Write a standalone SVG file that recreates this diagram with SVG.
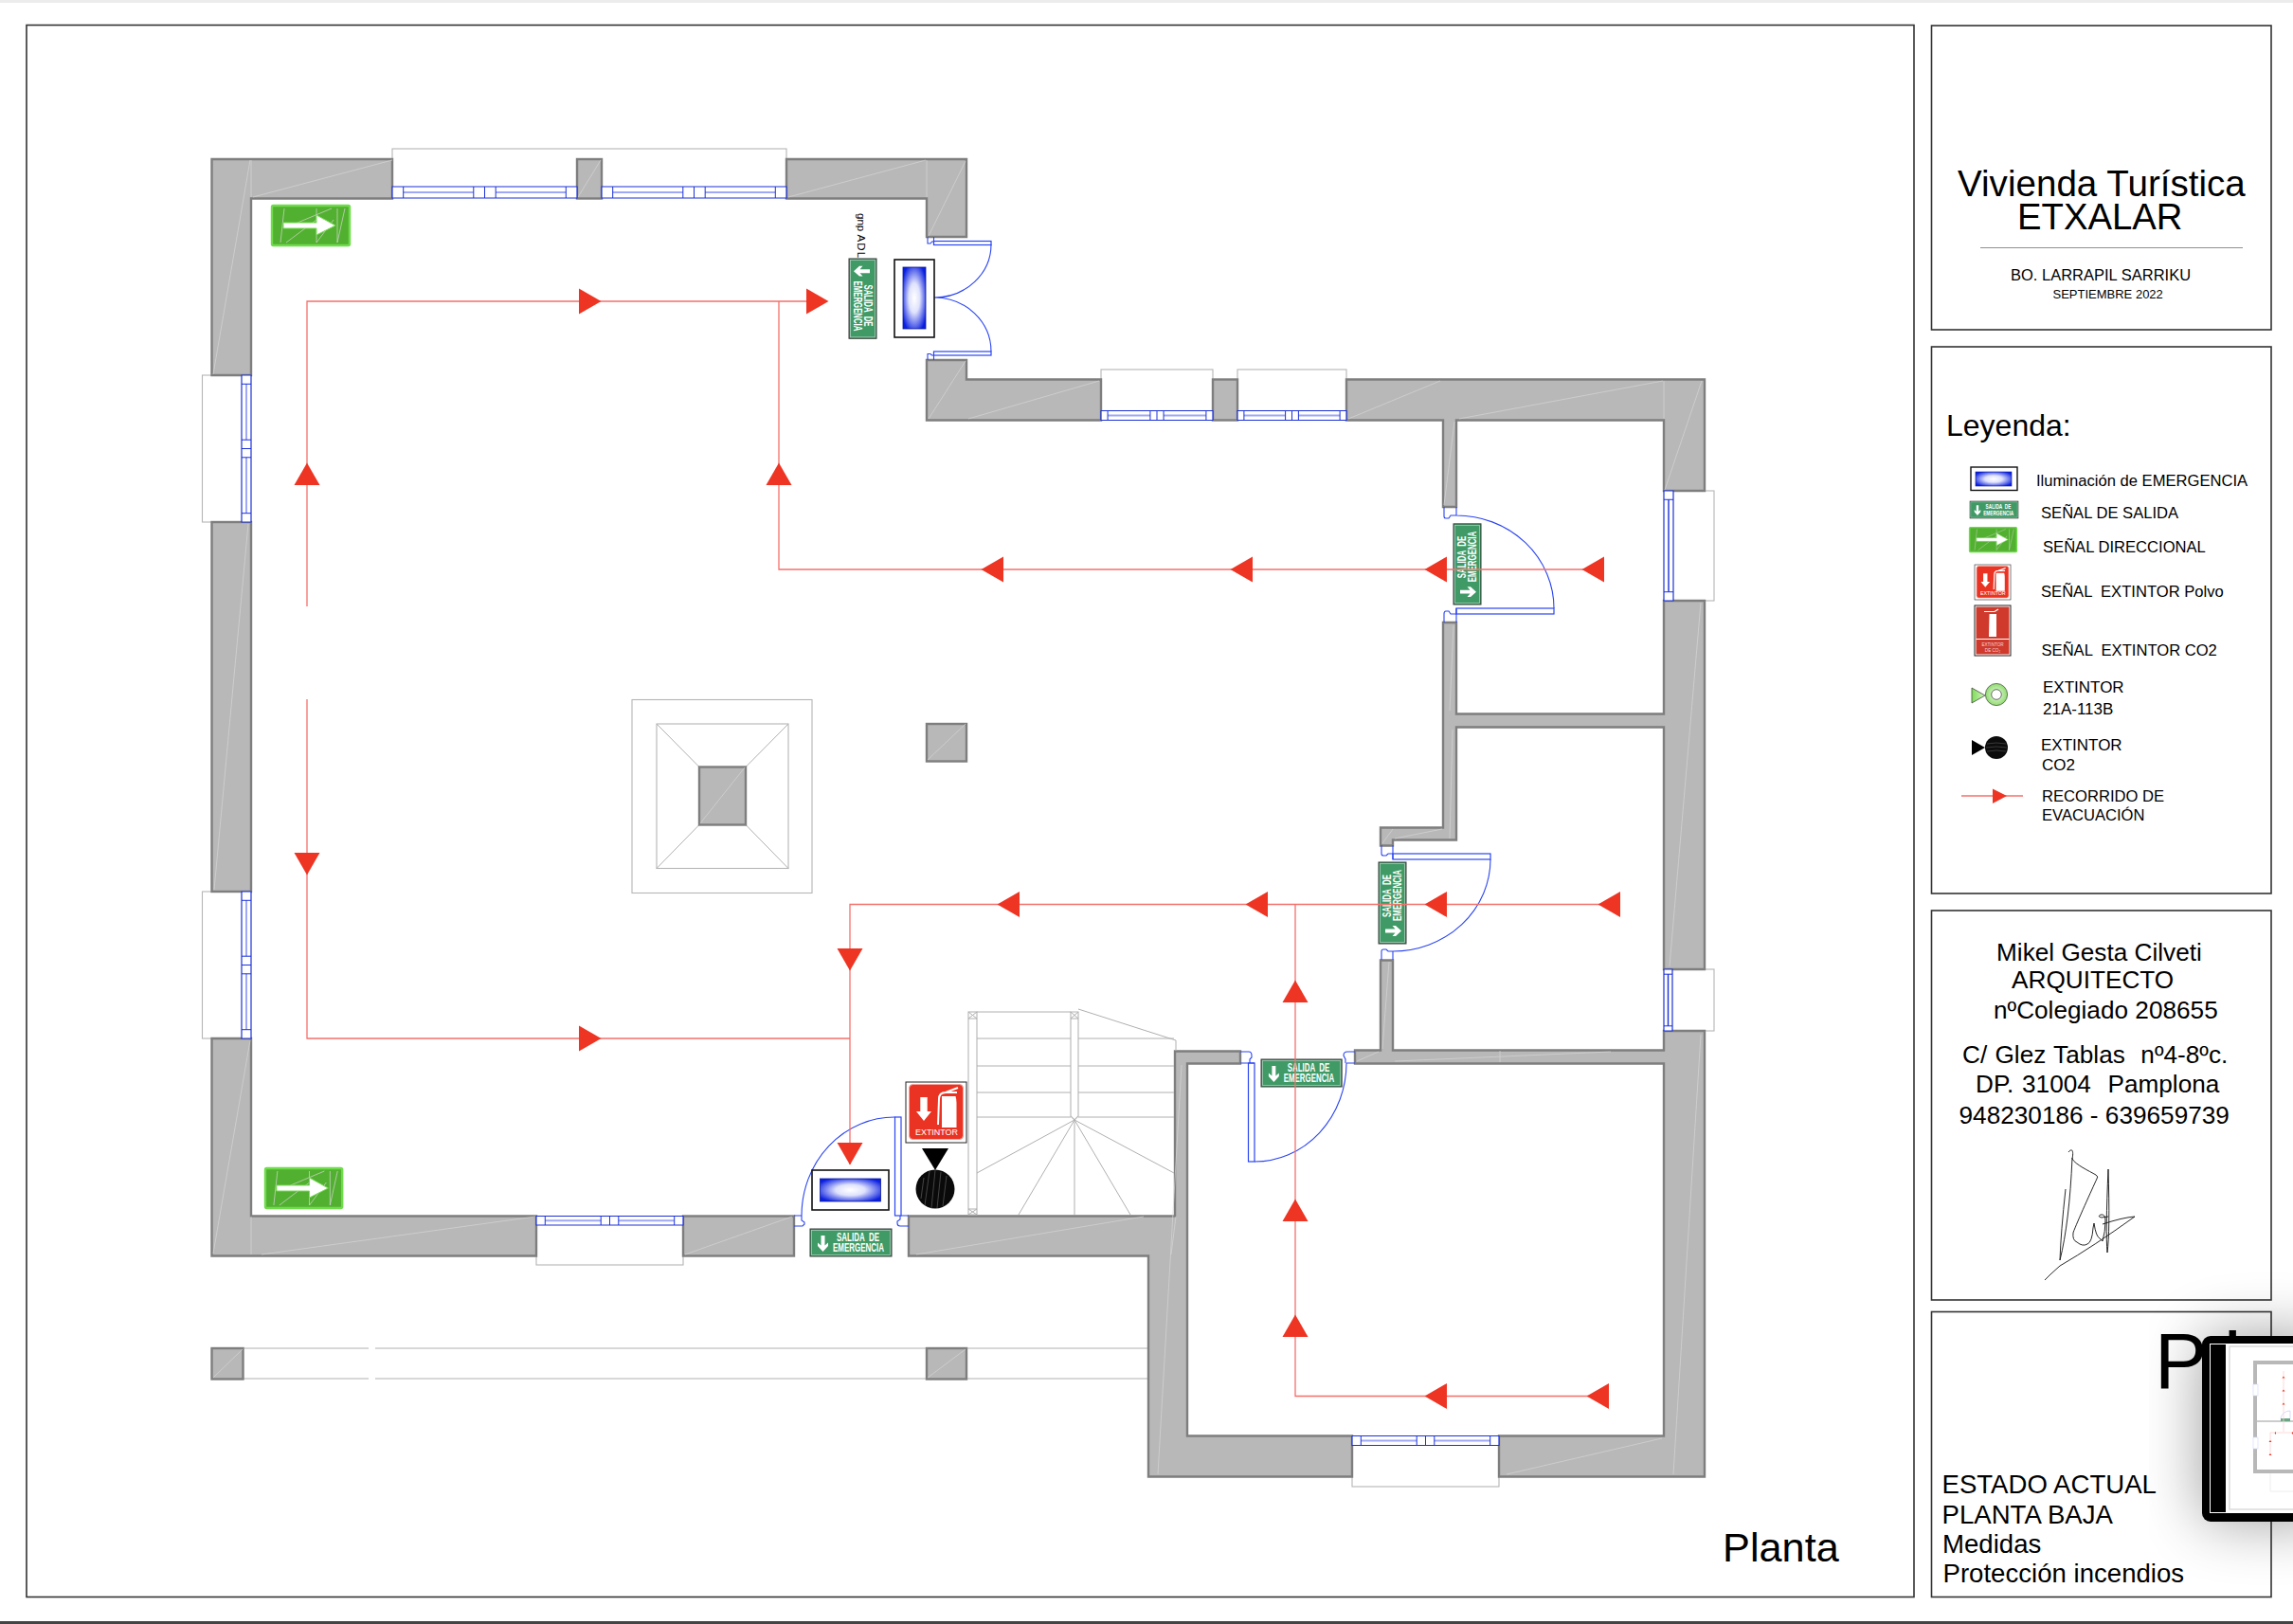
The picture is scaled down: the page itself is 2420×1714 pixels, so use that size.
<svg xmlns="http://www.w3.org/2000/svg" xmlns:xlink="http://www.w3.org/1999/xlink" width="2420" height="1714" viewBox="0 0 2420 1714">
<style>
text{font-family:"Liberation Sans",Arial,sans-serif;fill:#000;white-space:pre}
.box{fill:#fff;stroke:#333;stroke-width:1.6}
.wall{fill:#b8b8b8;stroke:#7e7e7e;stroke-width:2.4;stroke-linejoin:miter}
.hair{fill:none;stroke:#d6d6d6;stroke-width:.7}
.ghost{fill:#fff;stroke:#b5b5b5;stroke-width:1.1}
.thin{fill:none;stroke:#b0b0b0;stroke-width:1}
.blue{fill:none;stroke:#2a45f0;stroke-width:1.1}
.blueF{fill:#fff;stroke:#2a45f0;stroke-width:1.2}
.wf{fill:#fff;stroke:#1c32d6;stroke-width:1.2;vector-effect:non-scaling-stroke}
.wl{fill:none;stroke:#1c32d6;stroke-width:1;vector-effect:non-scaling-stroke}
.wg{fill:none;stroke:#9fa8f6;stroke-width:2;vector-effect:non-scaling-stroke}
.route{fill:none;stroke:#f4706a;stroke-width:1.3}
.tri{fill:#ee3524}
.lg{font-size:16.6px}
.ar{font-size:26.2px}
.st{font-size:27.6px}
.sw{fill:#fff;font-weight:bold}
.sig{fill:none;stroke:#111;stroke-width:.9}
</style>
<defs>
<radialGradient id="lampGrad" r=".6"><stop offset="0" stop-color="#fff"/><stop offset=".4" stop-color="#dfe2fc"/><stop offset="1" stop-color="#0a1fe0"/></radialGradient>
<radialGradient id="ringGrad"><stop offset="0" stop-color="#f4fff0"/><stop offset="1" stop-color="#8fdb6e"/></radialGradient>
<linearGradient id="triGrad"><stop offset="0" stop-color="#7edb58"/><stop offset="1" stop-color="#d3f5c0"/></linearGradient>
<filter id="soft" x="-40%" y="-40%" width="180%" height="180%"><feGaussianBlur stdDeviation="32"/></filter>
<path id="arrow" class="tri" d="M0-13.5L23.500 0L0 13.500z"/>
<g id="win2">
<rect class="wf" width="100" height="10"/>
<path class="wg" d="M6 5H44M56 5H94"/>
<path class="wl" d="M6 0V10M44 0V10M50 0V10M56 0V10M94 0V10"/>
</g>
<g id="win1">
<rect class="wf" width="100" height="10"/>
<path class="wg" d="M8 5H92"/>
<path class="wl" d="M8 0V10M92 0V10M8 5H92"/>
</g>
<g id="exitSign">
<rect width="86" height="29" fill="#3f9a66" stroke="#3a3a3a" stroke-width="1"/>
<rect x="1.500" y="1.500" width="83" height="26" fill="none" stroke="#a9cdb8" stroke-width=".8"/>
<path d="M11.500 7H15.500V17.500L19 14.500V18L13.500 24L8 18V14.500L11.500 17.500z" fill="#fff"/>
<text class="sw" x="28" y="12.800" font-size="12" textLength="45" lengthAdjust="spacingAndGlyphs">SALIDA  DE</text>
<text class="sw" x="24" y="24" font-size="12" textLength="54" lengthAdjust="spacingAndGlyphs">EMERGENCIA</text>
</g>
<g id="dirSign">
<rect x="1" y="1" width="82" height="42" rx="1.500" fill="#52b030" stroke="#6fdc4b" stroke-width="2.400"/>
<path class="hair" d="M10 40L14 4M16 40L48 16M48 40V4M48 40L66 16M70 40V4M70 40L78 4M16 24L64 4"/>
<path d="M13 19H48V11L68 22L48 32V25H13z" fill="#fff" stroke="#78dd55" stroke-width="1"/>
</g>
<g id="lampV"><rect width="42" height="82" fill="#fff" stroke="#111" stroke-width="1.600"/><rect x="9" y="8" width="24" height="65" fill="url(#lampGrad)" stroke="#0a1a9a" stroke-width=".8"/></g>
<g id="lampH"><rect width="81" height="42" fill="#fff" stroke="#111" stroke-width="1.600"/><rect x="8.500" y="9" width="64" height="24" fill="url(#lampGrad)" stroke="#0a1a9a" stroke-width=".8"/></g>
<g id="fireSign">
<rect x="0" y="0" width="64" height="64" fill="#fff" stroke="#222" stroke-width="1"/>
<rect x="3.500" y="2.500" width="57" height="58" rx="4" fill="#ea3322" stroke="#f7a59d" stroke-width="1"/>
<path d="M15.300 16H22.700V31H27L19 41L11 31H15.300z" fill="#fff"/>
<path d="M38 15H52.500Q53.500 18 53.500 22V48H38V22Q38 18 38 15z" fill="#fff"/>
<path d="M34 45L35 18Q35 11 42 11L55 6M42 11L54 11" fill="none" stroke="#fff" stroke-width="2"/>
<text class="sw" x="10" y="56" font-size="9.500" textLength="45" lengthAdjust="spacingAndGlyphs" style="font-weight:normal">EXTINTOR</text>
</g>
</defs>
<rect width="2420" height="1714" fill="#fff"/>
<rect width="2420" height="3" fill="#ececec"/>
<rect y="1711" width="2420" height="3" fill="#444"/>

<g id="sheet-frame"><rect class="box" x="28" y="26.500" width="1992" height="1659"/></g>

<g id="title-block">
<rect class="box" x="2038.500" y="27" width="358.500" height="321"/>
<text x="2066" y="207" font-size="38.600px">Vivienda Turística</text>
<text x="2129" y="242" font-size="38.300px">ETXALAR</text>
<path d="M2090 261.500H2367" stroke="#444" stroke-width=".6"/>
<text x="2122" y="296" font-size="16.500px">BO. LARRAPIL SARRIKU</text>
<text x="2166.500" y="315" font-size="13px">SEPTIEMBRE 2022</text>
</g>

<g id="legend">
<rect class="box" x="2038.500" y="366" width="358.500" height="577"/>
<text x="2054" y="459.500" font-size="32px">Leyenda:</text>
<rect x="2080" y="493" width="49" height="24.500" fill="#fff" stroke="#111" stroke-width="1.400"/>
<rect x="2085" y="498" width="38" height="15" fill="url(#lampGrad)" stroke="#0a1a9a" stroke-width=".6"/>
<text class="lg" x="2149" y="513">Iluminación de EMERGENCIA</text>
<use xlink:href="#exitSign" href="#exitSign" transform="translate(2079 529) scale(.593 .62)"/>
<text class="lg" x="2154" y="547">SEÑAL DE SALIDA</text>
<use xlink:href="#dirSign" href="#dirSign" transform="translate(2078 556) scale(.607 .614)"/>
<text class="lg" x="2156" y="583">SEÑAL DIRECCIONAL</text>
<use xlink:href="#fireSign" href="#fireSign" transform="translate(2084 596) scale(.594 .578)"/>
<text class="lg" x="2154" y="629.500">SEÑAL  EXTINTOR Polvo</text>
<g transform="translate(2084 639)">
<rect width="38" height="53" fill="#fff" stroke="#222" stroke-width="1"/>
<rect x="1.500" y="1.500" width="35" height="50" fill="#cf3a2c"/>
<rect x="1.500" y="35" width="35" height="1" fill="#fff"/>
<path d="M15.500 9H23V33H15z" fill="#fff"/>
<path d="M10 6.500H21L25 4" fill="none" stroke="#fff" stroke-width="1.200"/>
<text x="19" y="42.500" font-size="4.600" text-anchor="middle" style="fill:#f6d6d2">EXTINTOR</text>
<text x="19" y="48.500" font-size="4.600" text-anchor="middle" style="fill:#f6d6d2">DE CO₂</text>
</g>
<text class="lg" x="2154.500" y="692">SEÑAL  EXTINTOR CO2</text>
<path d="M2081 726L2095 734L2081 742z" fill="url(#triGrad)" stroke="#333" stroke-width=".7"/>
<circle cx="2107" cy="733" r="11.600" fill="url(#ringGrad)" stroke="#444" stroke-width=".7"/>
<circle cx="2107" cy="733" r="5.300" fill="#fff" stroke="#333" stroke-width=".7"/>
<text class="lg" x="2156" y="730.500" style="font-size:17px">EXTINTOR</text>
<text class="lg" x="2156" y="754" style="font-size:17px">21A-113B</text>
<path d="M2081 781L2095 789L2081 797z" fill="#000"/>
<circle cx="2107" cy="789" r="12" fill="#0c0c0c"/>
<path d="M2097 785Q2107 783 2117 785M2096 789Q2107 787 2118 789M2097 793Q2107 791 2117 793" fill="none" stroke="#666" stroke-width=".5"/>
<text class="lg" x="2154" y="792" style="font-size:17px">EXTINTOR</text>
<text class="lg" x="2155" y="812.500" style="font-size:17px">CO2</text>
<path class="route" d="M2070 840H2135"/>
<path class="tri" d="M2103 832.500L2118 840L2103 848z"/>
<text class="lg" x="2155" y="846">RECORRIDO DE</text>
<text class="lg" x="2155" y="866">EVACUACIÓN</text>
</g>

<g id="architect-block">
<rect class="box" x="2038.500" y="961" width="358.500" height="411"/>
<text class="ar" x="2107" y="1014">Mikel Gesta Cilveti</text>
<text class="ar" x="2123" y="1043">ARQUITECTO</text>
<text class="ar" x="2104" y="1075">nºColegiado 208655</text>
<text class="ar" x="2071" y="1122" style="word-spacing:1px">C/ Glez Tablas  nº4-8ºc.</text>
<text class="ar" x="2085" y="1153" style="word-spacing:1.500px">DP. 31004  Pamplona</text>
<text class="ar" x="2067.500" y="1186">948230186 - 639659739</text>
<path class="sig" d="M2183 1216C2186 1212 2189 1213 2187 1223C2190 1229 2205 1236 2212 1240Q2215 1242 2213 1244C2208 1255 2192 1290 2188 1301Q2187 1309 2192 1311Q2198 1316 2203 1313Q2208 1311 2209 1296L2210 1291Q2212 1305 2216 1307L2219 1310Q2222 1300 2222 1288Q2222 1281 2217 1282Q2213 1284 2218 1285L2225 1284"/>
<path class="sig" d="M2225 1234Q2227 1300 2224 1322Q2222 1300 2225 1234"/>
<path class="sig" d="M2180 1255Q2175 1300 2174 1330Q2184 1290 2187 1222"/>
<path class="sig" d="M2158 1351L2164 1345L2174 1336Q2210 1315 2253 1284Q2240 1285 2219 1292"/>
</g>

<g id="sheet-name">
<rect class="box" x="2038.500" y="1384.500" width="358.500" height="301"/>
<text x="2274" y="1465" font-size="83px">P<tspan x="2347">l</tspan></text>
<text class="st" x="2049.500" y="1575.500">ESTADO ACTUAL</text>
<text class="st" x="2049.500" y="1607.500">PLANTA BAJA</text>
<text class="st" x="2050" y="1638.500">Medidas</text>
<text class="st" x="2050.500" y="1669.500">Protección incendios</text>
</g>

<g id="plan-ghosts">
<rect class="ghost" x="414" y="157" width="416" height="45"/>
<rect class="ghost" x="213.500" y="396" width="45" height="155"/>
<rect class="ghost" x="213.500" y="941" width="45" height="155"/>
<rect class="ghost" x="566" y="1288" width="155" height="47"/>
<rect class="ghost" x="1162" y="390" width="118" height="48"/>
<rect class="ghost" x="1306" y="390" width="115" height="48"/>
<rect class="ghost" x="1762" y="518" width="47" height="116"/>
<rect class="ghost" x="1762" y="1023" width="47" height="65"/>
<rect class="ghost" x="1427" y="1520" width="155" height="49"/>
<path class="thin" d="M257 1423H389M396 1423H978M257 1455H389M396 1455H978M1020 1423H1212M1020 1455H1212"/>
<rect class="ghost" x="667" y="738.500" width="190" height="204"/>
<rect class="ghost" x="693" y="764" width="139" height="152.500"/>
<path class="thin" d="M693 764L738 809.500M832 764L787 809.500M693 916.500L738 870.500M832 916.500L787 870.500"/>
</g>

<g id="walls">
<path class="wall" d="M223.500 168H414V209.500H265V396H223.500z"/>
<rect class="wall" x="609" y="168" width="26" height="41.500"/>
<path class="wall" d="M830 168H1020V250H978V209.500H830z"/>
<path class="wall" d="M978 380H1020V400.500H1162V443.500H978z"/>
<rect class="wall" x="1280" y="400.500" width="26" height="43"/>
<path class="wall" d="M1421 400.500H1799V518H1756V443.500H1537V535H1523V443.500H1421z"/>
<path class="wall" d="M1756 634H1799V1023H1756V767.500H1537V886.500H1470V892.500H1457V873.500H1523V657H1537V753.500H1756z"/>
<rect class="wall" x="223.500" y="551" width="41.500" height="390"/>
<path class="wall" d="M223.500 1096H265V1283.500H566V1325.500H223.500z"/>
<rect class="wall" x="721" y="1283.500" width="117" height="42"/>
<path class="wall" d="M959 1283.500H1240V1109.500H1309V1122.500H1253V1515.500H1427V1558.500H1212V1325.500H959z"/>
<path class="wall" d="M1582 1515.500H1756V1122.500H1430V1108.500H1457V1013.500H1470V1108.500H1756V1088H1799V1558.500H1582z"/>
<rect class="wall" x="223.500" y="1423" width="33" height="32.500"/>
<rect class="wall" x="978" y="1423" width="42" height="32.500"/>
<rect class="wall" x="738" y="809.500" width="49" height="61"/>
<rect class="wall" x="978" y="764" width="42" height="39.500"/>
<path class="hair" d="M267 208L414 169M265 169V208M264 169L225 395M832 208L977 169M978 169V208M1019 170L980 249M1019 381L980 442M1022 442L1160 402M1423 442L1520 402M1540 442L1755 402M1524 533L1535 445M1757 517L1796 402M1756 442V402M1762 1020L1795 636M226 939L262 553M264 1098L225 1323M265 1284V1324M276 1324L565 1284M723 1324L836 1284M967 1324L1207 1284M1241 1284L1236 1324M1247 1124L1222 1556M1766 1556L1795 1092M1590 1556L1754 1518M1432 1120L1455 1110M1472 1120L1700 1110M1583 1109V1121M1459 1107L1466 1015M1530 750L1534 660M1530 885L1533 770M1459 890L1470 875M1472 885L1522 875M610 208L634 169M739 869L786 810M979 802L1019 764M225 1454L256 1424M979 1454L1019 1424"/>
</g>

<g id="windows">
<use xlink:href="#win2" href="#win2" transform="translate(414 197) scale(1.95 1.2)"/>
<use xlink:href="#win2" href="#win2" transform="translate(635 197) scale(1.95 1.2)"/>
<use xlink:href="#win2" href="#win2" transform="translate(265 396) rotate(90) scale(1.55 1)"/>
<use xlink:href="#win2" href="#win2" transform="translate(265 941) rotate(90) scale(1.55 1)"/>
<use xlink:href="#win2" href="#win2" transform="translate(566 1283.500) scale(1.55 .95)"/>
<use xlink:href="#win2" href="#win2" transform="translate(1162 433.500) scale(1.18 1)"/>
<use xlink:href="#win2" href="#win2" transform="translate(1306 433.500) scale(1.15 1)"/>
<use xlink:href="#win1" href="#win1" transform="translate(1766 518) rotate(90) scale(1.16 1)"/>
<use xlink:href="#win1" href="#win1" transform="translate(1765 1023) rotate(90) scale(.65 .9)"/>
<use xlink:href="#win2" href="#win2" transform="translate(1427 1515.500) scale(1.55 1)"/>
</g>

<g id="stairs">
<rect class="ghost" x="1022" y="1068" width="9" height="214"/>
<path class="ghost" d="M1130 1068H1138V1178L1134 1182L1130 1178z"/>
<path class="thin" d="M1031 1068H1130M1031 1096H1130M1138 1096H1239M1031 1125H1130M1138 1125H1239M1031 1153H1130M1138 1153H1239M1031 1179H1130M1138 1179H1239M1138 1065L1241 1098V1109M1134 1182L1031 1238M1134 1182L1075 1282M1134 1182V1282M1134 1182L1193 1282M1134 1182L1239 1238M1022 1075H1031M1130 1075H1138M1022 1276H1031M1022 1068L1031 1075M1031 1068L1022 1075M1130 1068L1138 1075M1138 1068L1130 1075M1022 1276L1031 1282M1031 1276L1022 1282"/>
</g>

<g id="doors">
<rect class="blueF" x="985.500" y="254.500" width="60.500" height="4"/>
<path class="blue" d="M1046 258A60 56 0 0 1 986 314A60 57 0 0 1 1046 371M979 250V257H982L983.500 255H985.500M985.500 250V258M979 380V373.500H982L983.500 375H985.500M985.500 380V371"/>
<rect class="blueF" x="985.500" y="371" width="60.500" height="4"/>
<rect class="blueF" x="1537" y="642" width="103" height="6"/>
<path class="blue" d="M1640 642A103 98 0 0 0 1537 544M1524 535V545Q1524 547 1526 547H1529L1531 544H1537M1537 535V544M1524 657V648Q1524 645 1526 645H1529L1531 648H1537M1537 657V642"/>
<rect class="blueF" x="1470" y="901" width="103" height="6"/>
<path class="blue" d="M1573 907A103 97 0 0 1 1470 1004M1458 892V901Q1458 903 1460 903H1463L1465 901H1470M1470 892V907M1458 1013V1004Q1458 1002 1460 1002H1463L1465 1004H1470M1470 1013V1004"/>
<rect class="blueF" x="1317.500" y="1122" width="6.500" height="104"/>
<path class="blue" d="M1324 1226A97 104 0 0 0 1421 1122M1309 1110H1318Q1321 1110 1321 1114V1116L1319 1118V1122M1309 1122H1324M1430 1110H1422Q1418 1110 1418 1114L1420 1118V1122M1430 1122H1421"/>
<rect class="blueF" x="944.500" y="1179" width="6.500" height="104"/>
<path class="blue" d="M944.500 1179A98 104 0 0 0 846 1283M838 1283H846V1288L849 1290V1292L847 1294H838M951 1283H959M959 1294H950Q947 1294 947 1291V1289L950 1287V1283"/>
</g>

<g id="sign-entry-note"><text x="0" y="0" font-size="11.500px" transform="translate(905 225) rotate(90)">gnp <tspan style="letter-spacing:1.200px">ADL</tspan></text></g>
<g id="dir-sign-top"><use xlink:href="#dirSign" href="#dirSign" transform="translate(286 216)"/></g>
<g id="dir-sign-bottom"><use xlink:href="#dirSign" href="#dirSign" transform="translate(279 1232) scale(.99 1)"/></g>
<g id="exit-sign-entry"><use xlink:href="#exitSign" href="#exitSign" transform="translate(925 273) rotate(90) scale(.98 1)"/></g>
<g id="exit-sign-north"><use xlink:href="#exitSign" href="#exitSign" transform="translate(1534 638) rotate(-90) scale(.99 1)"/></g>
<g id="exit-sign-mid"><use xlink:href="#exitSign" href="#exitSign" transform="translate(1455 996) rotate(-90)"/></g>
<g id="exit-sign-room"><use xlink:href="#exitSign" href="#exitSign" transform="translate(1331 1118) scale(.99 1)"/></g>
<g id="exit-sign-main"><use xlink:href="#exitSign" href="#exitSign" transform="translate(855 1297)"/></g>
<g id="lamp-entry"><use xlink:href="#lampV" href="#lampV" transform="translate(944 274)"/></g>
<g id="lamp-main"><use xlink:href="#lampH" href="#lampH" transform="translate(857 1235)"/></g>
<g id="fire-sign"><use xlink:href="#fireSign" href="#fireSign" transform="translate(956 1142)"/></g>
<g id="extinguisher">
<path d="M973 1212H1001L987 1235z" fill="#000"/>
<circle cx="987" cy="1255" r="20.500" fill="#0a0a0a"/>
<path d="M975 1243L972 1265M981 1236L976 1272M987 1235L983 1275M993 1237L989 1275M999 1241L995 1273" fill="none" stroke="#6b6b6b" stroke-width=".6"/>
</g>

<g id="connectors">
<path class="route" d="M324 640V318H852"/>
<path class="route" d="M324 738V1096H897"/>
<path class="route" d="M822 318V601H1680"/>
<path class="route" d="M897 1229V954.500H1700"/>
<path class="route" d="M1367 954.500V1473.500H1690"/>
<use xlink:href="#arrow" href="#arrow" transform="translate(611 318)"/>
<use xlink:href="#arrow" href="#arrow" transform="translate(851 318)"/>
<use xlink:href="#arrow" href="#arrow" transform="translate(611 1096)"/>
<use xlink:href="#arrow" href="#arrow" transform="translate(1059 601) rotate(180)"/>
<use xlink:href="#arrow" href="#arrow" transform="translate(1322 601) rotate(180)"/>
<use xlink:href="#arrow" href="#arrow" transform="translate(1527 601) rotate(180)"/>
<use xlink:href="#arrow" href="#arrow" transform="translate(1693 601) rotate(180)"/>
<use xlink:href="#arrow" href="#arrow" transform="translate(1076 954.500) rotate(180)"/>
<use xlink:href="#arrow" href="#arrow" transform="translate(1338 954.500) rotate(180)"/>
<use xlink:href="#arrow" href="#arrow" transform="translate(1527 954.500) rotate(180)"/>
<use xlink:href="#arrow" href="#arrow" transform="translate(1710 954.500) rotate(180)"/>
<use xlink:href="#arrow" href="#arrow" transform="translate(1527 1473.500) rotate(180)"/>
<use xlink:href="#arrow" href="#arrow" transform="translate(1698 1473.500) rotate(180)"/>
<use xlink:href="#arrow" href="#arrow" transform="translate(324 512) rotate(-90)"/>
<use xlink:href="#arrow" href="#arrow" transform="translate(822 512) rotate(-90)"/>
<use xlink:href="#arrow" href="#arrow" transform="translate(1367 1058) rotate(-90)"/>
<use xlink:href="#arrow" href="#arrow" transform="translate(1367 1289) rotate(-90)"/>
<use xlink:href="#arrow" href="#arrow" transform="translate(1367 1411) rotate(-90)"/>
<use xlink:href="#arrow" href="#arrow" transform="translate(324 900) rotate(90)"/>
<use xlink:href="#arrow" href="#arrow" transform="translate(897 1001) rotate(90)"/>
<use xlink:href="#arrow" href="#arrow" transform="translate(897 1206) rotate(90)"/>
</g>

<text x="1818" y="1648" font-size="43.300px">Planta</text>

<g id="thumbnail-overlay">
<rect x="2324" y="1410" width="140" height="196" rx="8" fill="#000" opacity=".38" filter="url(#soft)"/>
<rect x="2324" y="1410" width="120" height="196" rx="9" fill="#000"/>
<rect x="2332" y="1418" width="100" height="179" fill="#fff"/>
<rect x="2333" y="1419" width="16" height="177" fill="#000"/>
<rect x="2353" y="1421" width="80" height="172" fill="#fff" stroke="#dcdcdc" stroke-width="1.500"/>
<path d="M2396 1555V1574H2430" fill="none" stroke="#eee" stroke-width="1"/>
<path d="M2430 1438H2380V1553H2430" fill="none" stroke="#b8b8b8" stroke-width="4"/>
<path d="M2382 1500H2430" stroke="#9a9a9a" stroke-width="1"/>
<rect x="2378" y="1461" width="5" height="12" fill="#fff" stroke="#cfd6ff" stroke-width=".6"/>
<rect x="2378" y="1517" width="5" height="12" fill="#fff" stroke="#cfd6ff" stroke-width=".6"/>
<path d="M2407 1497A10 9 0 0 1 2417 1489V1497" fill="none" stroke="#c5cbfb" stroke-width=".7"/>
<rect x="2407" y="1497" width="10" height="3" fill="#6aa586"/>
<path d="M2410 1447V1511M2396 1535V1512H2420" fill="none" stroke="#fbd0ce" stroke-width=".8"/>
<path d="M2410 1452.500l-1.500 2h3zM2410 1466.500l-1.500 2h3zM2410 1480.500l-1.500 2h3zM2402 1511l-1.500 1.500 1.500 1.500zM2420 1511l-1.500 1.500 1.500 1.500zM2396 1520l-1.500 2h3zM2396 1534l-1.500 2h3z" fill="#ee3524"/>
</g>
</svg>
